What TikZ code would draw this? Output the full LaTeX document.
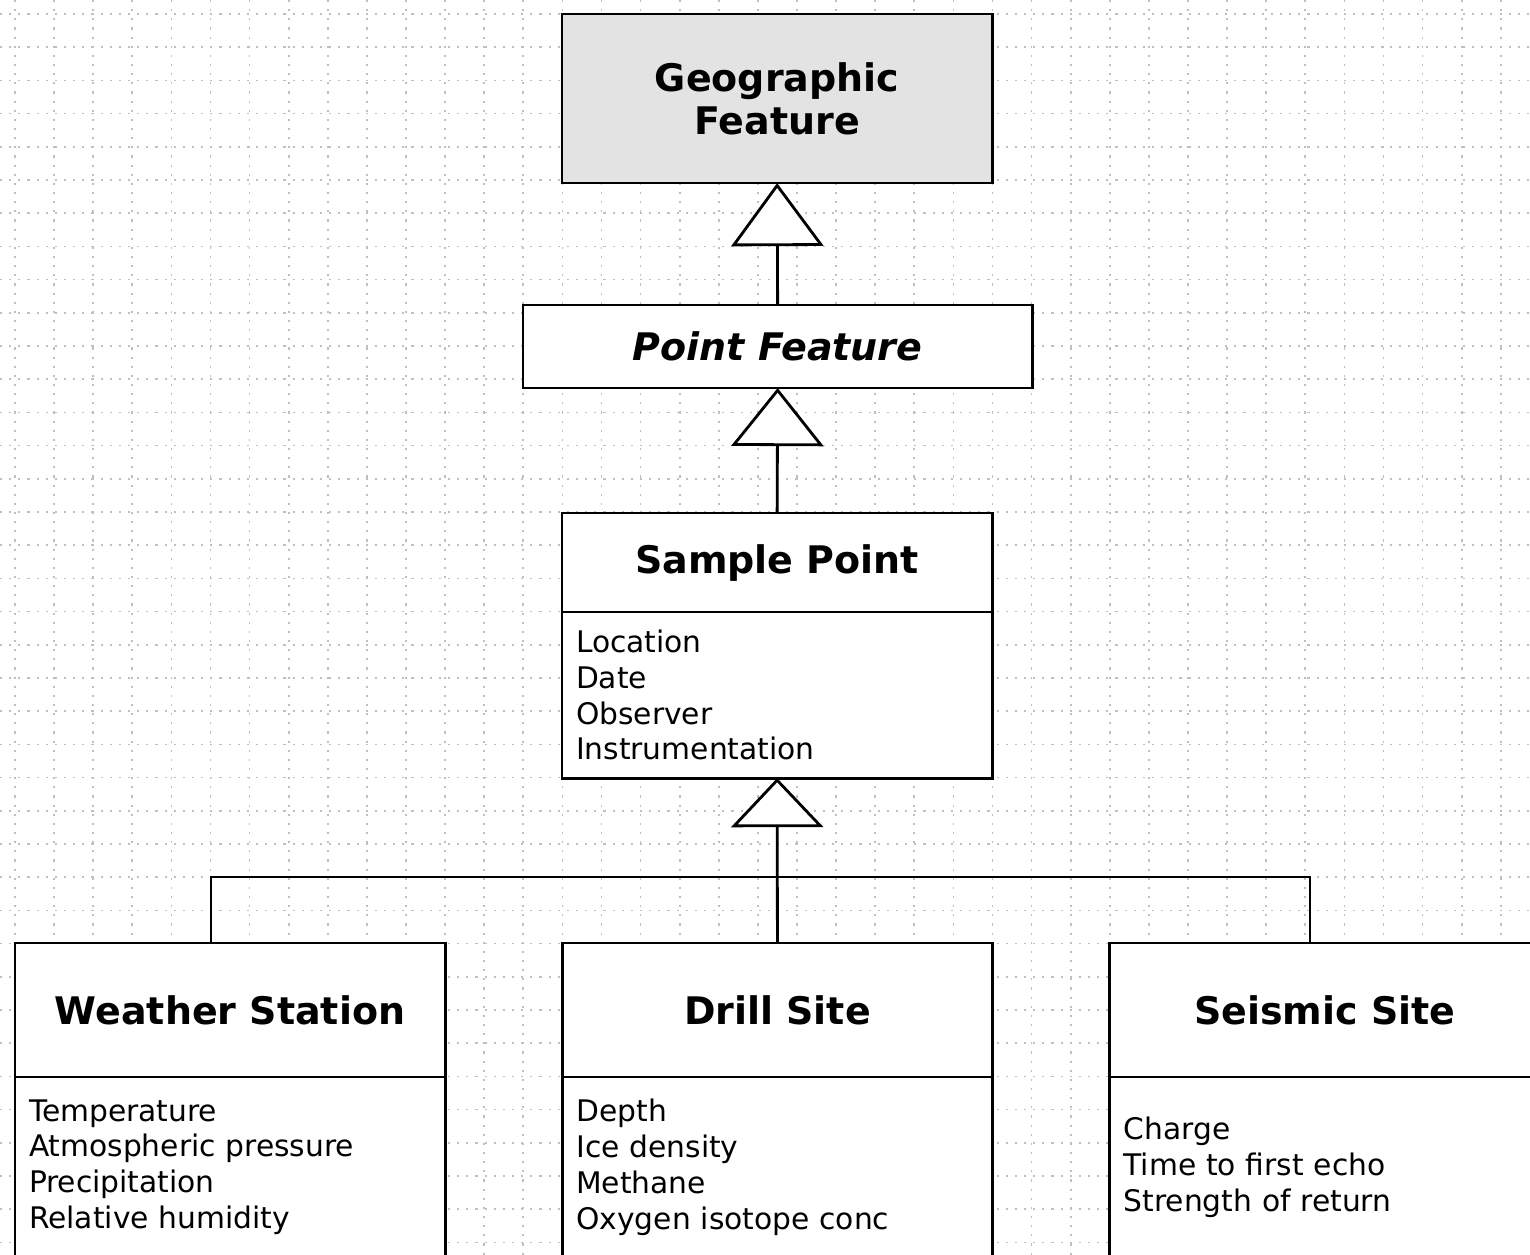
\documentclass[tikz,border=0pt]{standalone}
\usepackage{fontspec}
\setmainfont{DejaVu Sans}
\usetikzlibrary{arrows.meta,positioning}

\tikzset{
  classname/.style={draw,line width=0.8pt,fill=white,outer sep=0pt,minimum width=4.30cm,align=center,font=\fontsize{10.8}{12.2}\selectfont\bfseries},
  abstract/.style={font=\fontsize{10.8}{12.2}\selectfont\bfseries\itshape},
  attrlist/.style={draw,line width=0.8pt,fill=white,outer sep=0pt,inner xsep=0.14cm,text width=4.02cm,align=left,font=\fontsize{8.45}{10.2}\selectfont},
  isa/.style={line width=0.8pt,-{Triangle[fill=white,width=0.92cm,length=#1]}},
  link/.style={line width=0.8pt},
  gridline/.style={gray!50,line width=0.5pt,dash pattern=on 0.6pt off 2pt}
}

\begin{document}
\begin{tikzpicture}[x=0.01cm,y=-0.01cm]
\useasboundingbox (0,0) rectangle (1530,1255);
\clip (0,0) rectangle (1530,1255);
\fill[white] (0,0) rectangle (1530,1255);
\foreach \gx in {15,54.1,...,1530} \draw[gridline] (\gx,0) -- (\gx,1255);
\foreach \gy in {14,47.2,...,1255} \draw[gridline] (0,\gy) -- (1530,\gy);

\node[classname,fill=gray!22,minimum height=1.69cm,anchor=north west] (gf) at (562,14) {Geographic\\Feature};
\node[classname,abstract,minimum width=5.09cm,minimum height=0.83cm,anchor=north west] (pf) at (523,305) {Point Feature};
\node[classname,minimum height=0.99cm,anchor=north west] (spT) at (562,513) {Sample Point};
\node[attrlist,minimum height=1.66cm,below=0pt of spT] (spA) {Location\\Date\\Observer\\Instrumentation};

\node[classname,minimum height=1.34cm,anchor=north west] (wsT) at (15,943) {Weather Station};
\node[attrlist,minimum height=1.80cm,below=0pt of wsT] (wsA) {Temperature\\Atmospheric pressure\\Precipitation\\Relative humidity};
\node[classname,minimum height=1.34cm,right=1.17cm of wsT] (dsT) {Drill Site};
\node[attrlist,minimum height=1.80cm,below=0pt of dsT] (dsA) {Depth\\Ice density\\Methane\\Oxygen isotope conc};
\node[classname,minimum height=1.34cm,right=1.17cm of dsT] (ssT) {Seismic Site};
\node[attrlist,minimum height=1.80cm,below=0pt of ssT] (ssA) {Charge\\Time to first echo\\Strength of return};

\coordinate (fork) at (777,877);
\coordinate (wsUp) at (211,943);
\coordinate (ssUp) at (1310,943);

\draw[isa=0.63cm] (pf.north) -- (gf.south);
\draw[isa=0.58cm] (spT.north) -- (pf.south);
\draw[isa=0.49cm] (dsT.north) -- (spA.south);
\draw[link] (wsUp) |- (fork) -| (ssUp);
\end{tikzpicture}
\end{document}
